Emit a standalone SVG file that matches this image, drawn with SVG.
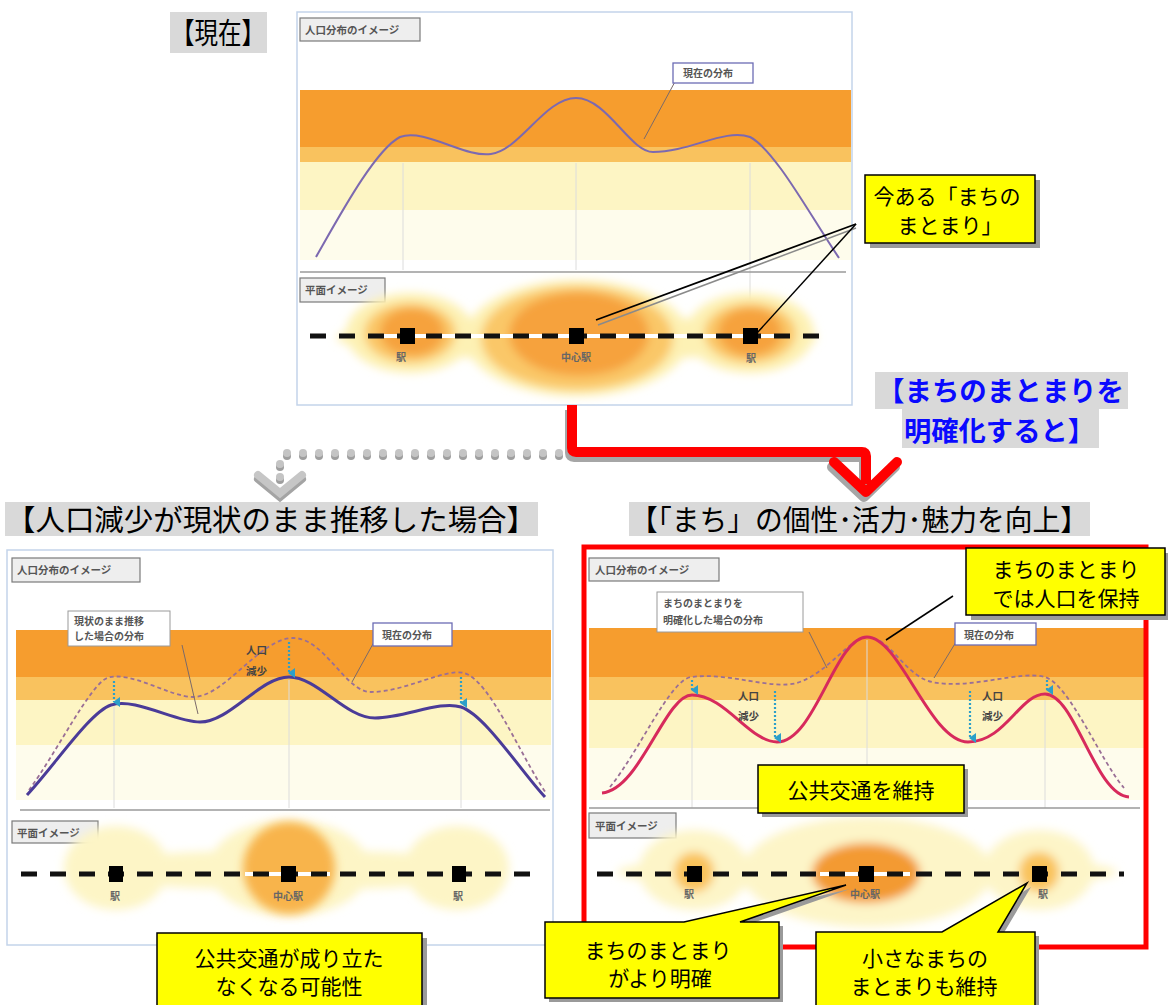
<svg xmlns="http://www.w3.org/2000/svg" width="1168" height="1005" viewBox="0 0 1168 1005">
<defs>
<style>
.jp{font-family:"Noto Sans CJK JP","Noto Sans",sans-serif;}
.title{font-family:"Noto Sans CJK JP",sans-serif;font-size:29px;fill:#000;}
.tbg{fill:#d9d9d9;}
.frame{fill:#fff;stroke:#c3d4ea;stroke-width:1.5;}
.orange{fill:#f69d2e;}
.lorange{fill:#f9c25e;}
.pale{fill:#fdf5c4;}
.vpale{fill:#fefcec;}
.vline{stroke:#dcdcdc;stroke-width:1;}
.hline{stroke:#9a9a9a;stroke-width:1.5;}
.tag{fill:#eeeeee;stroke:#7a7a7a;stroke-width:1.2;}
.tagt{font-family:"Noto Sans CJK JP",sans-serif;font-size:10.5px;font-weight:bold;fill:#555;}
.lbl{fill:#fff;stroke:#9a9a9a;stroke-width:1;}
.lblb{fill:#fff;stroke:#6c6cb4;stroke-width:1.3;}
.lblt{font-family:"Noto Sans CJK JP",sans-serif;font-size:10px;font-weight:bold;fill:#555;}
.leader{stroke:#7a6a6a;stroke-width:1;fill:none;}
.track{stroke:#111;stroke-width:5;stroke-dasharray:16 13;fill:none;}
.white{stroke:#fff;stroke-width:4;}
.stn{fill:#000;}
.stnt{font-family:"Noto Sans CJK JP",sans-serif;font-size:10px;font-weight:bold;fill:#666;text-anchor:middle;}
.yel{fill:#ffff00;stroke:#000;stroke-width:1.5;}
.shadow{fill:#9a9a9a;}
.yt{font-family:"Noto Sans CJK JP",sans-serif;font-size:21px;fill:#000;text-anchor:middle;}
.cur{fill:none;stroke:#7c69b0;stroke-width:2;}
.dash{fill:none;stroke:#9a6f96;stroke-width:1.8;stroke-dasharray:4 3;}
.cyan{stroke:#2c9fc9;stroke-width:2.2;stroke-dasharray:2 2;fill:none;}
.pop{font-family:"Noto Sans CJK JP",sans-serif;font-size:10.5px;font-weight:bold;fill:#444;}
.blue{font-family:"Noto Sans CJK JP",sans-serif;font-size:27px;font-weight:bold;fill:#0a0aff;}
</style>
<filter id="blur" x="-30%" y="-60%" width="160%" height="220%"><feGaussianBlur stdDeviation="5"/></filter>
<marker id="cyanhead" viewBox="0 0 10 10" refX="5" refY="8" markerWidth="10" markerHeight="10" markerUnits="userSpaceOnUse" orient="auto-start-reverse">
<path d="M0,2 L10,2 L5,9 Z" fill="#2c9fc9"/>
</marker>
</defs>

<!-- Titles -->
<g id="title-now">
<rect class="tbg" x="170" y="12" width="97" height="41"/>
<text class="title" x="171" y="44" textLength="94" lengthAdjust="spacingAndGlyphs">【現在】</text>
</g>
<g id="title-left">
<rect class="tbg" x="5" y="502" width="533" height="34"/>
<text class="title" x="6" y="531" textLength="530" lengthAdjust="spacingAndGlyphs">【人口減少が現状のまま推移した場合】</text>
</g>
<g id="title-right">
<rect class="tbg" x="629" y="502" width="461" height="34"/>
<text class="title" x="630" y="531" textLength="458" lengthAdjust="spacingAndGlyphs">【「まち」の個性･活力･魅力を向上】</text>
</g>
<g id="title-blue">
<rect class="tbg" x="875" y="372" width="253" height="37"/>
<rect class="tbg" x="902" y="408" width="197" height="40"/>
<text class="blue" x="877" y="401" textLength="247" lengthAdjust="spacingAndGlyphs">【まちのまとまりを</text>
<text class="blue" x="904" y="441" textLength="191" lengthAdjust="spacingAndGlyphs">明確化すると】</text>
</g>

<!-- Top panel -->
<g id="panel-now">
<rect class="frame" x="297" y="12" width="555" height="393"/>
<rect class="orange" x="300" y="90" width="551" height="57"/>
<rect class="lorange" x="300" y="147" width="551" height="15"/>
<rect class="pale" x="300" y="162" width="551" height="48"/>
<rect class="vpale" x="300" y="210" width="551" height="50"/>
<line class="vline" x1="403" y1="163" x2="403" y2="270"/>
<line class="vline" x1="576" y1="163" x2="576" y2="270"/>
<line class="vline" x1="750" y1="163" x2="750" y2="330"/>
<rect class="tag" x="300" y="18" width="120" height="23"/>
<text class="tagt" x="305" y="34">人口分布のイメージ</text>
<path class="cur" d="M316,257 C340,215 375,150 400,137 C425,128 465,158 491,154 C520,150 545,98 576,98 C607,98 630,152 653,152 C690,152 725,128 750,137 C775,150 810,215 839,258"/>
<path class="leader" d="M677,78 L644,139"/>
<rect class="lblb" x="673" y="63" width="80" height="20"/>
<text class="lblt" x="683" y="77">現在の分布</text>
<line class="hline" x1="300" y1="272" x2="846" y2="272"/>
<rect class="tag" x="300" y="278" width="85" height="24"/>
<text class="tagt" x="305" y="294">平面イメージ</text>
<g filter="url(#blur)">
<ellipse cx="577" cy="338" rx="240" ry="22" fill="#fdf1b4"/>
<ellipse cx="577" cy="338" rx="112" ry="58" fill="#fdf1b4"/>
<ellipse cx="410" cy="333" rx="64" ry="40" fill="#fdf1b4"/>
<ellipse cx="750" cy="333" rx="64" ry="40" fill="#fdf1b4"/>
<ellipse cx="577" cy="338" rx="96" ry="52" fill="#fac767"/>
<ellipse cx="410" cy="333" rx="46" ry="30" fill="#fac767"/>
<ellipse cx="750" cy="333" rx="46" ry="30" fill="#fac767"/>
<ellipse cx="579" cy="334" rx="70" ry="42" fill="#f6a23c"/>
<ellipse cx="412" cy="332" rx="32" ry="24" fill="#f6a23c"/>
<ellipse cx="750" cy="332" rx="32" ry="24" fill="#f6a23c"/>
</g>
<line class="white" x1="380" y1="336" x2="780" y2="336"/>
<line class="track" x1="310" y1="336" x2="832" y2="336"/>
<rect class="stn" x="400" y="328" width="15" height="16"/>
<rect class="stn" x="569" y="328" width="15" height="16"/>
<rect class="stn" x="743" y="328" width="15" height="16"/>
<text class="stnt" x="401" y="361">駅</text>
<text class="stnt" x="576" y="361">中心駅</text>
<text class="stnt" x="751" y="362">駅</text>
</g>

<!-- Bottom-left panel -->
<g id="panel-decline">
<rect class="frame" x="7" y="550" width="546" height="395"/>
<rect class="orange" x="16" y="630" width="535" height="47"/>
<rect class="lorange" x="16" y="677" width="535" height="23"/>
<rect class="pale" x="16" y="700" width="535" height="45"/>
<rect class="vpale" x="16" y="745" width="535" height="55"/>
<line class="vline" x1="114" y1="705" x2="114" y2="808"/>
<line class="vline" x1="289" y1="680" x2="289" y2="808"/>
<line class="vline" x1="461" y1="705" x2="461" y2="808"/>
<rect class="tag" x="12" y="558" width="128" height="24"/>
<text class="tagt" x="17" y="574">人口分布のイメージ</text>
<path class="dash" d="M29,790 C55,755 90,685 107,678 C130,670 170,697 193,697 C225,697 260,638 293,638 C325,638 345,692 371,692 C405,692 445,668 464,673 C490,680 520,755 546,793"/>
<path d="M27,795 C55,765 90,712 111,705 C135,697 175,722 200,722 C230,722 260,677 289,677 C318,677 345,718 375,718 C405,718 440,700 461,707 C485,715 520,770 545,797" fill="none" stroke="#4a3b98" stroke-width="3"/>
<line class="cyan" x1="114" y1="681" x2="114" y2="702" marker-end="url(#cyanhead)"/>
<line class="cyan" x1="289" y1="642" x2="289" y2="673" marker-end="url(#cyanhead)"/>
<line class="cyan" x1="461" y1="677" x2="461" y2="703" marker-end="url(#cyanhead)"/>
<path class="leader" d="M182,645 L198,714"/>
<rect class="lbl" x="68" y="611" width="102" height="35"/>
<text class="lblt" x="74" y="625">現状のまま推移</text>
<text class="lblt" x="74" y="640">した場合の分布</text>
<text class="pop" x="246" y="654">人口</text>
<text class="pop" x="246" y="675">減少</text>
<path class="leader" d="M374,642 L352,682"/>
<rect class="lblb" x="373" y="623" width="79" height="23"/>
<text class="lblt" x="382" y="639">現在の分布</text>
<line class="hline" x1="20" y1="810" x2="550" y2="810"/>
<rect class="tag" x="12" y="821" width="86" height="22"/>
<text class="tagt" x="17" y="837">平面イメージ</text>
<g filter="url(#blur)">
<ellipse cx="289" cy="870" rx="210" ry="20" fill="#fdf5c6"/>
<ellipse cx="116" cy="868" rx="52" ry="42" fill="#fdf5c6"/>
<ellipse cx="289" cy="868" rx="80" ry="48" fill="#fdf5c6"/>
<ellipse cx="457" cy="868" rx="52" ry="42" fill="#fdf5c6"/>
</g>
<circle cx="289" cy="868" r="46" fill="#f8b44c" filter="url(#blur)"/>
<line class="white" x1="245" y1="874" x2="330" y2="874"/>
<line class="track" x1="21" y1="874" x2="537" y2="874"/>
<rect class="stn" x="109" y="866" width="14" height="16"/>
<rect class="stn" x="281" y="866" width="15" height="16"/>
<rect class="stn" x="452" y="866" width="14" height="16"/>
<text class="stnt" x="115" y="900">駅</text>
<text class="stnt" x="288" y="900">中心駅</text>
<text class="stnt" x="458" y="900">駅</text>
</g>

<!-- Bottom-right panel -->
<g id="panel-improve">
<rect x="584" y="547" width="562" height="400" fill="#fff"/>
<rect class="orange" x="589" y="628" width="555" height="49"/>
<rect class="lorange" x="589" y="677" width="555" height="23"/>
<rect class="pale" x="589" y="700" width="555" height="48"/>
<rect class="vpale" x="589" y="748" width="555" height="52"/>
<line class="vline" x1="692" y1="700" x2="692" y2="808"/>
<line class="vline" x1="867" y1="640" x2="867" y2="808"/>
<line class="vline" x1="1045" y1="700" x2="1045" y2="808"/>
<rect class="tag" x="589" y="558" width="130" height="23"/>
<text class="tagt" x="595" y="574">人口分布のイメージ</text>
<path class="dash" d="M610,787 C640,750 670,680 691,677 C730,672 770,690 797,683 C830,672 850,637 867,637 C890,637 905,676 932,682 C970,690 1020,670 1045,677 C1070,685 1100,760 1124,788"/>
<path d="M602,793 C640,790 665,695 692,695 C725,695 750,742 777,742 C815,742 835,637 867,637 C900,637 930,742 968,742 C1005,742 1020,694 1045,694 C1075,694 1095,795 1129,797" fill="none" stroke="#d72a5c" stroke-width="3"/>
<line class="cyan" x1="692" y1="680" x2="692" y2="690" marker-end="url(#cyanhead)"/>
<line class="cyan" x1="775" y1="691" x2="775" y2="738" marker-end="url(#cyanhead)"/>
<line class="cyan" x1="970" y1="691" x2="970" y2="738" marker-end="url(#cyanhead)"/>
<line class="cyan" x1="1047" y1="680" x2="1047" y2="690" marker-end="url(#cyanhead)"/>
<text class="pop" x="738" y="700">人口</text>
<text class="pop" x="738" y="720">減少</text>
<text class="pop" x="982" y="700">人口</text>
<text class="pop" x="982" y="720">減少</text>
<path class="leader" d="M809,632 L827,668"/>
<rect class="lbl" x="657" y="592" width="146" height="40"/>
<text class="lblt" x="663" y="607">まちのまとまりを</text>
<text class="lblt" x="663" y="624">明確化した場合の分布</text>
<path class="leader" d="M956,642 L934,678"/>
<rect class="lblb" x="955" y="623" width="81" height="22"/>
<text class="lblt" x="964" y="639">現在の分布</text>
<line class="hline" x1="589" y1="808" x2="1140" y2="808"/>
<rect class="tag" x="589" y="813" width="87" height="25"/>
<text class="tagt" x="595" y="830">平面イメージ</text>
<g filter="url(#blur)">
<ellipse cx="867" cy="872" rx="250" ry="18" fill="#fdf5c8"/>
<ellipse cx="867" cy="872" rx="125" ry="55" fill="#fdf5c8"/>
<ellipse cx="694" cy="870" rx="55" ry="40" fill="#fdf5c8"/>
<ellipse cx="1039" cy="870" rx="55" ry="40" fill="#fdf5c8"/>
<circle cx="694" cy="872" r="20" fill="#f9c25a"/>
<circle cx="1039" cy="872" r="20" fill="#f9c25a"/>
<ellipse cx="866" cy="873" rx="54" ry="30" fill="#f39a30"/>
</g>
<line class="white" x1="820" y1="874" x2="910" y2="874"/>
<line class="track" x1="597" y1="874" x2="1124" y2="874"/>
<rect class="stn" x="687" y="866" width="15" height="16"/>
<rect class="stn" x="859" y="866" width="15" height="16"/>
<rect class="stn" x="1032" y="866" width="15" height="16"/>
<text class="stnt" x="689" y="898">駅</text>
<text class="stnt" x="865" y="898">中心駅</text>
<text class="stnt" x="1043" y="898">駅</text>
<rect x="584" y="547" width="562" height="400" fill="none" stroke="#ff0000" stroke-width="5"/>
</g>

<!-- Connectors -->
<g id="connectors">
<g id="red-arrow" fill="none" stroke-width="10" stroke-linejoin="round">
<g transform="translate(-2,5)" stroke="#a6a6a6">
<path d="M572,405 V448 Q572,452 576,452 H862 Q866,452 866,456 V484"/>
<path d="M834,462 L866,492 L897,462" stroke-linecap="round"/>
</g>
<g stroke="#ff0000">
<path d="M572,405 V448 Q572,452 576,452 H862 Q866,452 866,456 V484"/>
<path d="M834,462 L866,492 L897,462" stroke-linecap="round"/>
</g>
</g>
<g id="grey-arrow">
<g fill="#9e9e9e" transform="translate(0,3)">
<circle cx="287" cy="453" r="4"/><circle cx="303" cy="453" r="4"/><circle cx="319" cy="453" r="4"/><circle cx="335" cy="453" r="4"/><circle cx="351" cy="453" r="4"/><circle cx="367" cy="453" r="4"/><circle cx="383" cy="453" r="4"/><circle cx="399" cy="453" r="4"/><circle cx="415" cy="453" r="4"/><circle cx="431" cy="453" r="4"/><circle cx="447" cy="453" r="4"/><circle cx="463" cy="453" r="4"/><circle cx="479" cy="453" r="4"/><circle cx="495" cy="453" r="4"/><circle cx="511" cy="453" r="4"/><circle cx="527" cy="453" r="4"/><circle cx="543" cy="453" r="4"/><circle cx="559" cy="453" r="4"/>
<circle cx="280" cy="464" r="4"/><circle cx="280" cy="477" r="4"/>
</g>
<g fill="#c4c4c4">
<circle cx="287" cy="453" r="4"/><circle cx="303" cy="453" r="4"/><circle cx="319" cy="453" r="4"/><circle cx="335" cy="453" r="4"/><circle cx="351" cy="453" r="4"/><circle cx="367" cy="453" r="4"/><circle cx="383" cy="453" r="4"/><circle cx="399" cy="453" r="4"/><circle cx="415" cy="453" r="4"/><circle cx="431" cy="453" r="4"/><circle cx="447" cy="453" r="4"/><circle cx="463" cy="453" r="4"/><circle cx="479" cy="453" r="4"/><circle cx="495" cy="453" r="4"/><circle cx="511" cy="453" r="4"/><circle cx="527" cy="453" r="4"/><circle cx="543" cy="453" r="4"/><circle cx="559" cy="453" r="4"/>
<circle cx="280" cy="464" r="4"/>
</g>
<path d="M258,475 L280,493 L302,475" fill="none" stroke="#a4a4a4" stroke-width="8" stroke-linecap="round" transform="translate(0,4)"/>
<path d="M258,475 L280,493 L302,475" fill="none" stroke="#c6c6c6" stroke-width="8" stroke-linecap="round"/>
<circle cx="280" cy="477" r="4" fill="#c4c4c4"/>
</g>
<g id="callout-lines" fill="none">
<line x1="856" y1="228" x2="598" y2="325" stroke="#8a8a8a" stroke-width="1.5"/>
<line x1="856" y1="224" x2="596" y2="320" stroke="#000" stroke-width="1.8"/>
<line x1="856" y1="224" x2="757" y2="333" stroke="#000" stroke-width="1.5"/>
<line x1="953" y1="596" x2="886" y2="640" stroke="#000" stroke-width="1.5"/>
</g>
</g>

<!-- Yellow notes -->
<g id="note-now">
<rect class="shadow" x="870" y="180" width="170" height="68"/>
<rect class="yel" x="865" y="175" width="170" height="68"/>
<text class="yt" x="947" y="204" font-size="20">今ある「まちの</text>
<text class="yt" x="950" y="233" font-size="20">まとまり」</text>
</g>
<g id="note-decline">
<rect class="shadow" x="162" y="938" width="265" height="72"/>
<rect class="yel" x="157" y="933" width="265" height="75"/>
<text class="yt" x="289" y="966" font-size="23">公共交通が成り立た</text>
<text class="yt" x="289" y="994" font-size="23">なくなる可能性</text>
</g>
<g id="note-keep">
<rect class="shadow" x="971" y="553" width="199" height="67"/>
<rect class="yel" x="966" y="548" width="199" height="67"/>
<text class="yt" x="1066" y="577">まちのまとまり</text>
<text class="yt" x="1066" y="606" font-size="22">では人口を保持</text>
</g>
<g id="note-transit">
<rect class="shadow" x="762" y="769" width="206" height="48"/>
<rect class="yel" x="758" y="765" width="206" height="48"/>
<text class="yt" x="861" y="798" font-size="23">公共交通を維持</text>
</g>
<g id="note-clear">
<path class="shadow" d="M549,926 L688,926 L850,889 L744,926 L783,926 L783,1002 L549,1002 Z"/>
<path class="yel" d="M545,922 L684,922 L846,885 L740,922 L779,922 L779,998 L545,998 Z"/>
<text class="yt" x="658" y="958">まちのまとまり</text>
<text class="yt" x="660" y="986">がより明確</text>
</g>
<g id="note-small">
<path class="shadow" d="M820,936 L946,936 L1031,887 L1002,936 L1039,936 L1039,1012 L820,1012 Z"/>
<path class="yel" d="M816,932 L942,932 L1027,883 L998,932 L1035,932 L1035,1010 L816,1010 Z"/>
<text class="yt" x="925" y="966">小さなまちの</text>
<text class="yt" x="924" y="994">まとまりも維持</text>
</g>
</svg>
